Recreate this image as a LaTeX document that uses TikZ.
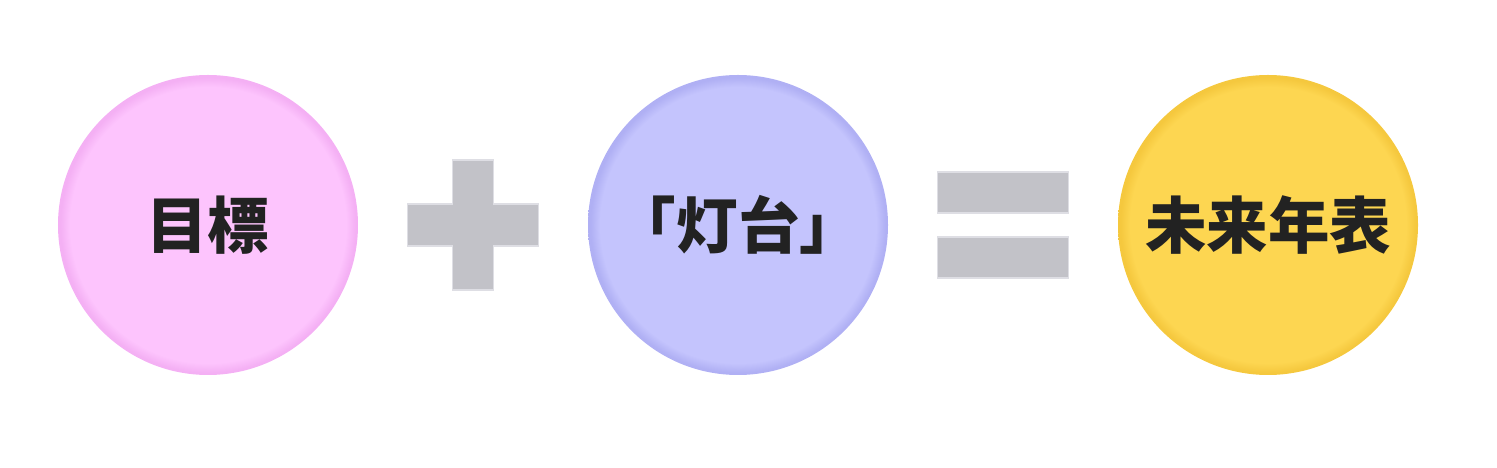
\documentclass[tikz,border=0pt]{standalone}
\usepackage{fontspec}
\usepackage{tikz}
\usetikzlibrary{positioning}
\newfontfamily\jp{Noto Sans CJK JP}

\definecolor{pinkc}{RGB}{253,196,253}
\definecolor{pinkrim}{RGB}{244,176,244}
\definecolor{lilac}{RGB}{196,196,253}
\definecolor{lilacrim}{RGB}{176,176,244}
\definecolor{gold}{RGB}{253,214,81}
\definecolor{goldrim}{RGB}{245,200,62}
\definecolor{bargray}{RGB}{194,194,200}
\definecolor{barrim}{RGB}{222,222,228}
\definecolor{ink}{RGB}{34,34,34}

\pgfdeclareradialshading{pinkball}{\pgfpoint{0bp}{0bp}}{color(0bp)=(pinkc); color(23bp)=(pinkc); color(24.6bp)=(pinkrim); color(50bp)=(pinkrim)}
\pgfdeclareradialshading{lilacball}{\pgfpoint{0bp}{0bp}}{color(0bp)=(lilac); color(23bp)=(lilac); color(24.6bp)=(lilacrim); color(50bp)=(lilacrim)}
\pgfdeclareradialshading{goldball}{\pgfpoint{0bp}{0bp}}{color(0bp)=(gold); color(23bp)=(gold); color(24.6bp)=(goldrim); color(50bp)=(goldrim)}

\begin{document}
\begin{tikzpicture}[node distance={5.3cm},
  main/.style = {circle, minimum size=6cm, inner sep=0pt, font=\jp\bfseries\fontsize{35}{40}\selectfont, text=ink},
  bar/.style = {fill=bargray, draw=barrim, line width=1pt}]
\useasboundingbox (-4.16,-4.86) rectangle (25.78,4.5);
\node[main, shading=pinkball] (goal) {目標};
\node[coordinate] (plus) [right of=goal] {};
\draw[bar] (plus) ++(-1.31,0.42) -- ++(0.9,0) -- ++(0,0.88) -- ++(0.82,0) -- ++(0,-0.88) -- ++(0.9,0) -- ++(0,-0.84) -- ++(-0.9,0) -- ++(0,-0.88) -- ++(-0.82,0) -- ++(0,0.88) -- ++(-0.9,0) -- cycle;
\node[main, shading=lilacball] (beacon) [right of=plus] {「灯台」};
\node[coordinate] (eq) [right of=beacon] {};
\node[bar, rectangle, inner sep=0pt, minimum width=2.62cm, minimum height=0.82cm] (eqtop) [above=0.22cm of eq] {};
\node[bar, rectangle, inner sep=0pt, minimum width=2.62cm, minimum height=0.82cm] (eqbot) [below=0.22cm of eq] {};
\node[main, shading=goldball] (future) [right of=eq] {未来年表};
\end{tikzpicture}
\end{document}
